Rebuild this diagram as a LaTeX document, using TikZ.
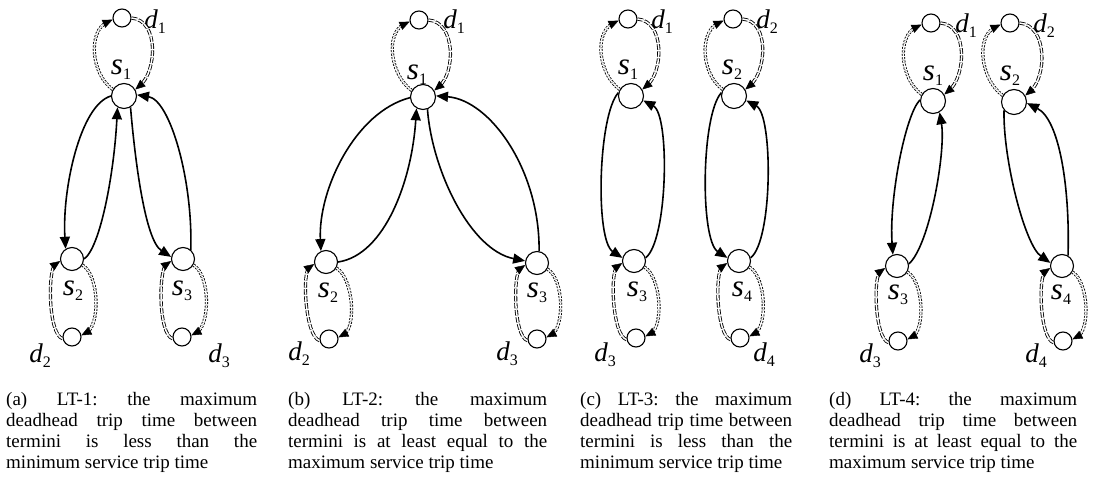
\documentclass[tikz,border=0pt]{standalone}
\usepackage{fontspec}
\setmainfont{Liberation Serif}
\usetikzlibrary{arrows.meta,calc}
\newcommand{\lbl}[2]{{\fontsize{27}{27}\selectfont\itshape #1}\raisebox{-5pt}{\fontsize{16}{16}\selectfont #2}}
\newcommand{\slbl}[1]{{\fontsize{31}{31}\selectfont\itshape s}\raisebox{-5pt}{\fontsize{16}{16}\selectfont #1}}
\newcommand{\dhpath}[2]{\draw[#1] #2; \path[tipo] #2;}
\newcommand{\toploop}[2]{%
  \dhpath{dhs}{(#1.150) to[out=144,in=205] (#2.190)}
  \dhpath{dhl}{(#2.0) to[out=-5,in=40] (#1.30)}}
\newcommand{\botloop}[2]{%
  \dhpath{dhs}{(#1.-30) to[out=-32,in=28,looseness=0.75] (#2.10)}
  \dhpath{dhl}{(#2.190) to[out=163,in=215,looseness=0.5] (#1.190)}}
\newcommand{\capbox}[5]{\vtop{\baselineskip=21pt\frenchspacing
  \hbox to #1{#2}\hbox to #1{#3}\hbox to #1{#4}\hbox{#5}}}
\begin{document}
\begin{tikzpicture}[x=1pt,y=1pt,
  snode/.style={circle, draw, line width=1.1pt, minimum size=25pt, inner sep=0pt},
  sbnode/.style={snode, minimum size=23pt},
  dnode/.style={circle, draw, line width=1.1pt, minimum size=18pt, inner sep=0pt},
  svc/.style={line width=1.6pt, -{Triangle[length=12pt,width=10pt]}},
  dhs/.style={double, double distance=1.5pt, line width=0.85pt, dash pattern=on 2pt off 1.4pt, shorten >=6pt},
  dhl/.style={double, double distance=1.5pt, line width=0.85pt, dash pattern=on 5.5pt off 1.6pt, shorten >=6pt},
  tipo/.style={tips, -{Triangle[length=10pt,width=8.5pt]}},
  lab/.style={inner sep=0pt},
  capnode/.style={inner sep=0pt, anchor=base west, font=\fontsize{19}{21}\selectfont}]
\useasboundingbox (0,0) rectangle (1098,-478);
% ---------- (a)
\node[dnode] (d1a) at (122,-18) {};
\node[snode] (s1a) at (124,-96) {};
\node[sbnode] (s2a) at (72,-259) {};
\node[dnode] (d2a) at (72,-337) {};
\node[sbnode] (s3a) at (183,-259) {};
\node[dnode] (d3a) at (182,-337) {};
\node[lab] (ld1a) at (155,-22) {\lbl{d}{1}};
\node[lab] (ls1a) at (121,-70) {\slbl{1}};
\node[lab] (ls2a) at (73,-291) {\slbl{2}};
\node[lab] (ls3a) at (182,-291) {\slbl{3}};
\node[lab] (ld2a) at (40,-356) {\lbl{d}{2}};
\node[lab] (ld3a) at (219,-356) {\lbl{d}{3}};
\toploop{s1a}{d1a}
\botloop{s2a}{d2a}
\botloop{s3a}{d3a}
\draw[svc] (s1a.180) .. controls (80,-105) and (62,-190) .. (s2a.122);
\draw[svc] (s2a.0) .. controls (100,-248) and (114,-175) .. (s1a.240);
\draw[svc] (s1a.300) .. controls (135,-160) and (145,-240) .. (s3a.170);
\draw[svc] (s3a.50) .. controls (193,-180) and (170,-100) .. (s1a.5);
% ---------- (b)
\node[dnode] (d1b) at (419,-20) {};
\node[snode] (s1b) at (423,-97) {};
\node[sbnode] (s2b) at (326,-262) {};
\node[dnode] (d2b) at (329,-339) {};
\node[sbnode] (s3b) at (537,-263) {};
\node[dnode] (d3b) at (537,-339) {};
\node[lab] (ld1b) at (454,-22) {\lbl{d}{1}};
\node[lab] (ls1b) at (417,-75) {\slbl{1}};
\node[lab] (ls2b) at (328,-293) {\slbl{2}};
\node[lab] (ls3b) at (537,-293) {\slbl{3}};
\node[lab] (ld2b) at (299,-354) {\lbl{d}{2}};
\node[lab] (ld3b) at (507,-354) {\lbl{d}{3}};
\toploop{s1b}{d1b}
\botloop{s2b}{d2b}
\botloop{s3b}{d3b}
\draw[svc] (s1b.183) .. controls (355,-112) and (318,-190) .. (s2b.115);
\draw[svc] (s2b.0) .. controls (385,-255) and (412,-180) .. (s1b.240);
\draw[svc] (s1b.290) .. controls (432,-170) and (470,-250) .. (s3b.170);
\draw[svc] (s3b.80) .. controls (540,-170) and (490,-100) .. (s1b.5);
% ---------- (c)
\node[dnode] (d1c) at (628,-19) {};
\node[snode] (s1c) at (631,-96) {};
\node[sbnode] (s3c) at (634,-261) {};
\node[dnode] (d3c) at (636,-338) {};
\node[dnode] (d2c) at (733,-19) {};
\node[snode] (s2c) at (734,-96) {};
\node[sbnode] (s4c) at (739,-261) {};
\node[dnode] (d4c) at (740,-338) {};
\node[lab] (ld1c) at (662,-22) {\lbl{d}{1}};
\node[lab] (ls1c) at (628,-70) {\slbl{1}};
\node[lab] (ld2c) at (767,-22) {\lbl{d}{2}};
\node[lab] (ls2c) at (732,-70) {\slbl{2}};
\node[lab] (ls3c) at (637,-292) {\slbl{3}};
\node[lab] (ls4c) at (742,-292) {\slbl{4}};
\node[lab] (ld3c) at (605,-355) {\lbl{d}{3}};
\node[lab] (ld4c) at (764,-355) {\lbl{d}{4}};
\toploop{s1c}{d1c}
\toploop{s2c}{d2c}
\botloop{s3c}{d3c}
\botloop{s4c}{d4c}
\draw[svc] (s1c.165) .. controls (598,-115) and (595,-240) .. (s3c.165);
\draw[svc] (s3c.15) .. controls (668,-240) and (670,-115) .. (s1c.340);
\draw[svc] (s2c.165) .. controls (701,-115) and (700,-240) .. (s4c.165);
\draw[svc] (s4c.15) .. controls (773,-240) and (773,-115) .. (s2c.340);
% ---------- (d)
\node[dnode] (d1d) at (931,-23) {};
\node[snode] (s1d) at (933,-101) {};
\node[sbnode] (s3d) at (897,-266) {};
\node[dnode] (d3d) at (898,-341) {};
\node[dnode] (d2d) at (1010,-23) {};
\node[snode] (s2d) at (1014,-102) {};
\node[sbnode] (s4d) at (1062,-266) {};
\node[dnode] (d4d) at (1063,-341) {};
\node[lab] (ld1d) at (966,-26) {\lbl{d}{1}};
\node[lab] (ls1d) at (933,-76) {\slbl{1}};
\node[lab] (ld2d) at (1044,-26) {\lbl{d}{2}};
\node[lab] (ls2d) at (1010,-76) {\slbl{2}};
\node[lab] (ls3d) at (898,-295) {\slbl{3}};
\node[lab] (ls4d) at (1061,-295) {\slbl{4}};
\node[lab] (ld3d) at (870,-356) {\lbl{d}{3}};
\node[lab] (ld4d) at (1036,-356) {\lbl{d}{4}};
\toploop{s1d}{d1d}
\toploop{s2d}{d2d}
\botloop{s3d}{d3d}
\botloop{s4d}{d4d}
\draw[svc] (s1d.175) .. controls (905,-115) and (889,-200) .. (s3d.110);
\draw[svc] (s3d.10) .. controls (930,-245) and (946,-150) .. (s1d.300);
\draw[svc] (s2d.220) .. controls (1003,-160) and (1025,-245) .. (s4d.165);
\draw[svc] (s4d.60) .. controls (1070,-190) and (1060,-120) .. (s2d.355);
% ---------- captions
\node[capnode] (capa) at (6,-405) {\capbox{251pt}{(a) LT-1: the maximum}{deadhead trip time between}{termini is less than the}{minimum service trip time}};
\node[capnode] (capb) at (288,-405) {\capbox{259pt}{(b) LT-2: the maximum}{deadhead trip time between}{termini is at least equal to the}{maximum service trip time}};
\node[capnode] (capc) at (580,-405) {\capbox{212pt}{(c) LT-3: the maximum}{deadhead trip time between}{termini is less than the}{minimum service trip time}};
\node[capnode] (capd) at (829,-405) {\capbox{248pt}{(d) LT-4: the maximum}{deadhead trip time between}{termini is at least equal to the}{maximum service trip time}};
\end{tikzpicture}
\end{document}
